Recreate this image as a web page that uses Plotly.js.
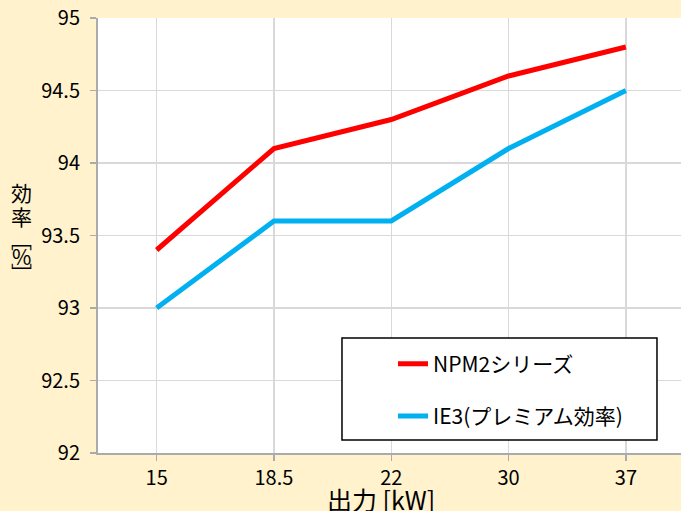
<!DOCTYPE html>
<html>
<head>
<meta charset="utf-8">
<script src="https://cdn.plot.ly/plotly-3.0.1.min.js"></script>
<style>html,body{margin:0;padding:0;background:#FFF2CC;}</style>
</head>
<body>
<div id="chart" style="width:681px;height:511px;"></div>
<script>
const categories = ["15", "18.5", "22", "30", "37"];
const npm2Values = [93.4, 94.1, 94.3, 94.6, 94.8];
const ie3Values = [93.0, 93.6, 93.6, 94.1, 94.5];
const seriesNames = ["NPM2シリーズ", "IE3(プレミアム効率)"];
const yTicks = [92, 92.5, 93, 93.5, 94, 94.5, 95];
const yTitleChars = ["効", "率", "﹇", "%", "﹈"];
const yTitleCharY = [0.600, 0.5448, 0.492, 0.4529, 0.4161];
const xTitle = "出力 [kW]";

const font = "'Noto Sans CJK JP', 'Noto Sans', sans-serif";

const traces = [
  {x: categories, y: npm2Values, name: seriesNames[0], type: "scatter", mode: "lines",
   line: {color: "#FF0000", width: 5}, legendgroup: "a"},
  {x: categories, y: ie3Values, name: seriesNames[1], type: "scatter", mode: "lines",
   line: {color: "#00B0F0", width: 5}, legendgroup: "b"}
];

const annotations = yTitleChars.map((c, i) => ({
  text: c, xref: "paper", yref: "paper", x: -0.1312, y: yTitleCharY[i],
  xanchor: "center", yanchor: "middle", showarrow: false,
  font: {family: font, size: 21, color: "#000"}
}));
annotations.push({
  text: xTitle, xref: "paper", yref: "paper", x: 0.4854, y: -0.1057,
  xanchor: "center", yanchor: "middle", showarrow: false,
  font: {family: font, size: 25, color: "#000"}
});

const layout = {
  width: 681, height: 511,
  paper_bgcolor: "#FFF2CC",
  plot_bgcolor: "#FFFFFF",
  margin: {l: 98, r: 0, t: 18, b: 58},
  font: {family: font, size: 20, color: "#000"},
  showlegend: true,
  legend: {
    x: 0.506, y: 0.2517, xanchor: "left", yanchor: "top",
    bgcolor: "rgba(0,0,0,0)", borderwidth: 0,
    font: {family: font, size: 21, color: "#000"},
    traceorder: "grouped", tracegroupgap: 22
  },
  shapes: [
    {type: "rect", xref: "paper", yref: "paper", x0: 0.4185, x1: 0.9588, y0: 0.0299, y1: 0.2644,
     fillcolor: "#FFFFFF", line: {color: "#000000", width: 1.5}, layer: "above"}
  ],
  xaxis: {
    type: "category",
    range: [-0.5, 4.47],
    showgrid: true, gridcolor: "#D9D9D9", gridwidth: 1.5,
    showline: true, linecolor: "#ABABAB", linewidth: 2,
    ticks: "outside", ticklen: 6, tickcolor: "#ABABAB", tickwidth: 1.5,
    tickfont: {family: font, size: 20, color: "#000"},
    zeroline: false,
    title: {text: ""}
  },
  yaxis: {
    range: [92, 95],
    tickvals: yTicks,
    ticktext: yTicks.map(String),
    showgrid: true, gridcolor: "#D9D9D9", gridwidth: 1.5,
    showline: true, linecolor: "#ABABAB", linewidth: 2,
    ticks: "outside", ticklen: 6, tickcolor: "#ABABAB", tickwidth: 1.5,
    tickfont: {family: font, size: 20, color: "#000"},
    ticklabelstandoff: 6,
    zeroline: false,
    title: {text: ""}
  },
  annotations: annotations
};

Plotly.newPlot("chart", traces, layout, {displayModeBar: false, staticPlot: true});
</script>
</body>
</html>
